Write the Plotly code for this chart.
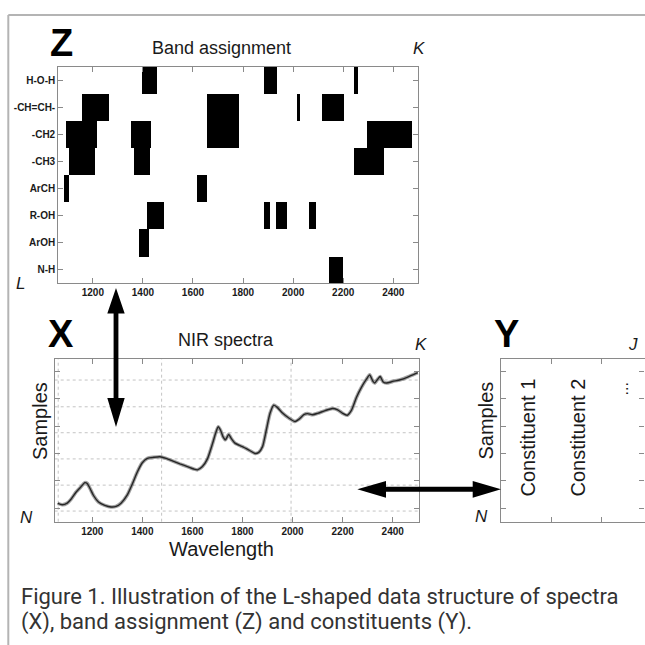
import plotly.graph_objects as go

W = H = 645

# ---- Band assignment (Z): functional group rows and wavelength bands (nm)
band_groups = ["H-O-H", "-CH=CH-", "-CH2", "-CH3", "ArCH", "R-OH", "ArOH", "N-H"]
band_row = ["H-O-H", "H-O-H", "H-O-H",
            "-CH=CH-", "-CH=CH-", "-CH=CH-", "-CH=CH-",
            "-CH2", "-CH2", "-CH2", "-CH2",
            "-CH3", "-CH3", "-CH3",
            "ArCH", "ArCH",
            "R-OH", "R-OH", "R-OH", "R-OH",
            "ArOH",
            "N-H"]
band_start = [1396, 1885, 2243,
              1156, 1656, 2015, 2116,
              1095, 1355, 1656, 2295,
              1105, 1365, 2243,
              1085, 1616,
              1416, 1885, 1933, 2063,
              1384,
              2145]
band_end = [1456, 1936, 2259,
            1265, 1785, 2027, 2205,
            1216, 1435, 1785, 2475,
            1208, 1429, 2365,
            1107, 1656,
            1485, 1909, 1976, 2093,
            1425,
            2200]

# ---- NIR spectra (X): wavelength (nm) and absorbance (arbitrary units)
wavelength = [1062, 1080, 1100, 1115, 1135, 1155, 1170, 1180, 1192, 1205,
              1225, 1250, 1275, 1295, 1315, 1340, 1360, 1380, 1400, 1420,
              1445, 1470, 1495, 1520, 1550, 1580, 1605, 1620, 1640, 1660,
              1680, 1693, 1703, 1712, 1722, 1732, 1745, 1755, 1770, 1800,
              1830, 1850, 1865, 1880, 1895, 1910, 1925, 1940, 1960, 1985,
              2010, 2025, 2045, 2060, 2080, 2100, 2130, 2160, 2180, 2200,
              2218, 2235, 2255, 2275, 2295, 2308, 2320, 2328, 2340, 2350,
              2362, 2375, 2400, 2430, 2460, 2480, 2500]
absorbance = [1.17, 1.12, 1.18, 1.32, 1.58, 1.78, 1.93, 1.90, 1.70, 1.46,
              1.22, 1.10, 1.04, 1.06, 1.18, 1.48, 1.88, 2.32, 2.66, 2.82,
              2.86, 2.88, 2.82, 2.73, 2.62, 2.52, 2.43, 2.40, 2.52, 2.80,
              3.35, 3.75, 3.98, 3.86, 3.62, 3.50, 3.70, 3.55, 3.38, 3.25,
              3.10, 3.00, 3.04, 3.25, 3.85, 4.47, 4.77, 4.68, 4.48, 4.30,
              4.17, 4.25, 4.42, 4.46, 4.42, 4.47, 4.57, 4.65, 4.60, 4.47,
              4.40, 4.58, 5.05, 5.42, 5.72, 5.88, 5.66, 5.58, 5.72, 5.82,
              5.62, 5.58, 5.64, 5.70, 5.80, 5.88, 5.96]

# dotted reference grid of the spectra panel
grid_absorbance = [5.69, 4.71, 3.76, 2.80, 1.84, 0.89]
grid_wavelength = [1064, 1477, 1994]

# ---- Constituents (Y)
constituents = ["Constituent 1", "Constituent 2", "..."]
constituent_pos = [0.53, 1.53, 2.42]

wl_ticks = [1200, 1400, 1600, 1800, 2000, 2200, 2400]
sample_ticks = [1, 2, 3, 4, 5, 6]

FONT = "Liberation Sans, Arial, sans-serif"
AX = "#8a8a8a"
TXT = "#1a1a1a"


def px(x):
    return x / W


def py(y):
    return 1 - y / H


fig = go.Figure()

rows = [band_groups.index(r) + 1 for r in band_row]
fig.add_trace(go.Bar(
    orientation="h",
    y=rows,
    x=[e - s for s, e in zip(band_start, band_end)],
    base=band_start,
    width=1,
    marker=dict(color="#000000", line=dict(width=0)),
    xaxis="x", yaxis="y", hoverinfo="skip",
))

fig.add_trace(go.Scatter(
    x=wavelength, y=absorbance, mode="lines",
    line=dict(color="rgba(70,70,70,0.5)", width=3.6, shape="spline", smoothing=0.6),
    xaxis="x2", yaxis="y2", hoverinfo="skip",
))
fig.add_trace(go.Scatter(
    x=wavelength, y=absorbance, mode="lines",
    line=dict(color="#262626", width=1.4, shape="spline", smoothing=0.6),
    xaxis="x2", yaxis="y2", hoverinfo="skip",
))

common_axis = dict(
    showline=True, linecolor=AX, linewidth=1.2, mirror="ticks",
    ticks="inside", ticklen=5, tickcolor=AX, tickwidth=1,
    showgrid=False, zeroline=False, fixedrange=True,
    tickfont=dict(family=FONT, size=10, color=TXT, weight="bold"),
)

fig.update_layout(
    width=W, height=H, autosize=False,
    margin=dict(l=0, r=0, t=0, b=0),
    paper_bgcolor="white", plot_bgcolor="white",
    showlegend=False,
    bargap=0,
    xaxis=dict(common_axis, domain=[px(58.3), px(418.3)], range=[1062, 2500],
               tickvals=wl_ticks, anchor="y"),
    yaxis=dict(common_axis, domain=[py(283.3), py(66.7)], range=[8.5, 0.5],
               tickvals=list(range(1, len(band_groups) + 1)), ticktext=band_groups,
               anchor="x"),
    xaxis2=dict(common_axis, domain=[px(54.7), px(419)], range=[1050, 2505],
                tickvals=wl_ticks, anchor="y2"),
    yaxis2=dict(common_axis, domain=[py(521.7), py(359.3)], range=[0.5, 6.45],
                tickvals=sample_ticks, showticklabels=False, anchor="x2"),
    xaxis3=dict(common_axis, domain=[px(501), px(644.5)], range=[0, 2.87],
                tickvals=[1, 2], showticklabels=False, anchor="y3"),
    yaxis3=dict(common_axis, domain=[py(521.7), py(359.3)], range=[0.5, 6.45],
                tickvals=sample_ticks, showticklabels=False, anchor="x3"),
)

shapes = []
# dotted grid in the spectra panel
for g in grid_absorbance:
    shapes.append(dict(type="line", xref="x2 domain", yref="y2", x0=0, x1=1, y0=g, y1=g,
                       line=dict(color="#c4c4c4", width=1, dash="dot"), layer="below"))
for g in grid_wavelength:
    shapes.append(dict(type="line", xref="x2", yref="y2 domain", x0=g, x1=g, y0=0, y1=1,
                       line=dict(color="#c4c4c4", width=1, dash="dot"), layer="below"))

# outer frame (left and top rules)
shapes.append(dict(type="line", xref="paper", yref="paper", x0=px(8.3), x1=px(8.3),
                   y0=py(15), y1=0, line=dict(color="#b4b4b4", width=2)))
shapes.append(dict(type="line", xref="paper", yref="paper", x0=px(8.3), x1=1,
                   y0=py(15), y1=py(15), line=dict(color="#b4b4b4", width=2)))


def poly(points):
    d = "M " + " L ".join(f"{px(x):.5f},{py(y):.5f}" for x, y in points) + " Z"
    return dict(type="path", xref="paper", yref="paper", path=d,
                fillcolor="#000000", line=dict(width=0))


# double arrow linking Z and X (vertical)
cx, hw, sw = 116, 8.7, 2.4
top_tip, top_base, bot_base, bot_tip = 288, 313.5, 398, 427
shapes.append(poly([(cx, top_tip), (cx + hw, top_base), (cx + sw, top_base),
                    (cx + sw, bot_base), (cx + hw, bot_base), (cx, bot_tip),
                    (cx - hw, bot_base), (cx - sw, bot_base), (cx - sw, top_base),
                    (cx - hw, top_base)]))
# double arrow linking X and Y (horizontal)
cy, hh, sh = 489.3, 8.4, 2.5
l_tip, l_base, r_base, r_tip = 357.3, 386, 472.7, 501
shapes.append(poly([(l_tip, cy), (l_base, cy - hh), (l_base, cy - sh),
                    (r_base, cy - sh), (r_base, cy - hh), (r_tip, cy),
                    (r_base, cy + hh), (r_base, cy + sh), (l_base, cy + sh),
                    (l_base, cy + hh)]))

fig.update_layout(shapes=shapes)

ann = []


def label(text, x, y, size, bold=False, italic=False, angle=0, color=TXT, family=FONT):
    t = text
    if bold:
        t = f"<b>{t}</b>"
    if italic:
        t = f"<i>{t}</i>"
    ann.append(dict(text=t, x=px(x), y=py(y), xref="paper", yref="paper",
                    xanchor="center", yanchor="middle", showarrow=False,
                    textangle=angle, font=dict(family=family, size=size, color=color)))


# Z panel
label("Z", 61, 43, 38, bold=True, color="#000")
label("Band assignment", 221, 48.5, 18)
label("K", 419, 49, 17, italic=True)
label("L", 20.5, 284, 17, italic=True)
# X panel
label("X", 61, 333.5, 38, bold=True, color="#000")
label("NIR spectra", 225.5, 340, 18)
label("K", 421, 345, 17, italic=True)
label("Samples", 39.5, 421.5, 20, angle=-90)
label("N", 26, 517.5, 17, italic=True)
label("Wavelength", 221, 548.5, 20)
# Y panel
label("Y", 506.7, 333.5, 38, bold=True, color="#000")
label("J", 632.5, 345, 17, italic=True)
label("Samples", 485.5, 421, 20, angle=-90)
label("N", 481.5, 516.7, 17, italic=True)
for name, pos in zip(constituents, constituent_pos):
    if name == "...":
        ann.append(dict(text=name, x=pos, y=py(389.5), xref="x3", yref="paper",
                        xanchor="center", yanchor="middle", showarrow=False, textangle=-90,
                        font=dict(family=FONT, size=16, color=TXT)))
    else:
        ann.append(dict(text=name, x=pos, y=py(438), xref="x3", yref="paper",
                        xanchor="center", yanchor="middle", showarrow=False, textangle=-90,
                        font=dict(family=FONT, size=20, color=TXT)))

# caption
CAP = "Roboto, Noto Sans, sans-serif"
for line, y in [("Figure 1. Illustration of the L-shaped data structure of spectra", 596),
                ("(X), band assignment (Z) and constituents (Y).", 622)]:
    ann.append(dict(text=line, x=px(19), y=py(y), xref="paper", yref="paper",
                    xanchor="left", yanchor="middle", showarrow=False,
                    font=dict(family=CAP, size=22, color="#333333")))

fig.update_layout(annotations=ann)

fig.write_html("out.html")
